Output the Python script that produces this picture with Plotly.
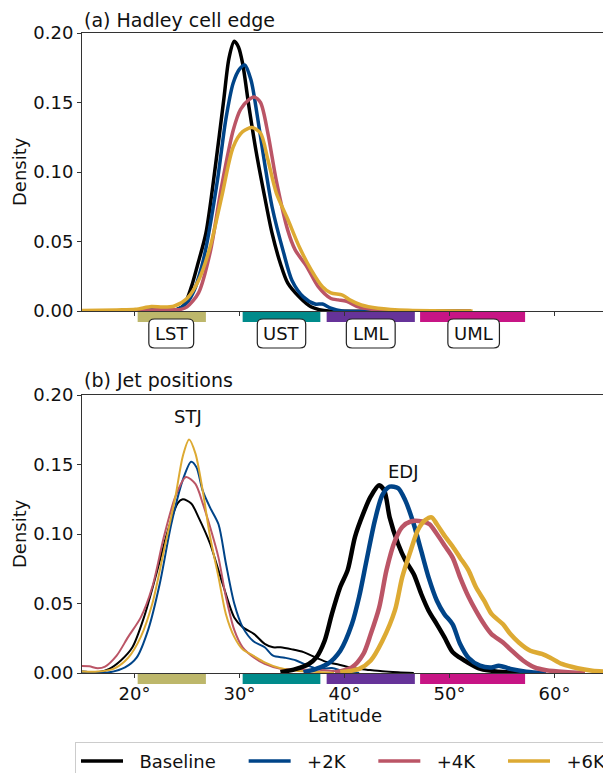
import plotly.graph_objects as go

# ---------------- data ----------------
scenarios = ["Baseline", "+2K", "+4K", "+6K"]
colors = ["#000000", "#004488", "#BB5566", "#DDAA33"]

# (a) Hadley cell edge densities
had_lat_base = [15, 18, 21, 22.5, 24.0, 24.7, 25.4, 26.0, 26.8, 27.7, 28.5, 29.0, 29.5, 29.9, 30.3, 30.9, 31.6, 32.4, 33.1, 33.9, 34.6, 35.7, 36.8, 37.6, 38.5, 45, 52]
had_den_base = [0, 0, 0.0003, 0.001, 0.001, 0.004, 0.017, 0.033, 0.056, 0.104, 0.152, 0.182, 0.194, 0.190, 0.178, 0.147, 0.114, 0.082, 0.056, 0.034, 0.020, 0.010, 0.003, 0.001, 0, 0, 0]

had_lat_2k = [15, 18, 21, 22.5, 24.0, 25.0, 25.7, 26.4, 26.8, 27.9, 28.7, 29.4, 30.0, 30.5, 31.1, 31.6, 32.4, 33.1, 34.2, 35.0, 36.1, 37.2, 37.9, 38.7, 39.8, 45, 52]
had_den_2k = [0, 0, 0.0003, 0.001, 0.001, 0.006, 0.015, 0.032, 0.045, 0.094, 0.138, 0.164, 0.174, 0.177, 0.166, 0.145, 0.106, 0.075, 0.042, 0.022, 0.010, 0.005, 0.005, 0.002, 0, 0, 0]

had_lat_4k = [15, 18, 21, 22.5, 24.3, 25.0, 26.1, 27.2, 28.3, 29.4, 30.1, 30.9, 31.4, 32.0, 32.7, 33.5, 34.6, 35.3, 36.4, 37.5, 38.7, 39.4, 40.2, 41.3, 42.8, 44, 52]
had_den_4k = [0, 0, 0.0005, 0.001, 0.001, 0.003, 0.013, 0.042, 0.090, 0.130, 0.145, 0.152, 0.154, 0.150, 0.128, 0.094, 0.058, 0.044, 0.032, 0.0175, 0.009, 0.008, 0.007, 0.003, 0.001, 0, 0]

had_lat_6k = [15, 18.3, 20.1, 21.6, 22.7, 23.8, 25.0, 26.1, 27.2, 28.3, 29.4, 30.3, 31.2, 32.0, 32.7, 33.5, 34.6, 35.7, 36.8, 37.9, 38.7, 39.8, 40.5, 41.6, 43.2, 46.1, 52.2]
had_den_6k = [0.0003, 0.0008, 0.0012, 0.0032, 0.0028, 0.0036, 0.009, 0.022, 0.046, 0.082, 0.118, 0.129, 0.132, 0.128, 0.109, 0.085, 0.066, 0.046, 0.030, 0.0175, 0.013, 0.0115, 0.008, 0.0043, 0.002, 0.0005, 0]

# (b) Subtropical jet (STJ) densities
stj_lat_base = [15, 16.5, 17.6, 18.7, 19.8, 20.9, 22.0, 23.2, 24.1, 24.6, 25.4, 26.1, 27.2, 28.4, 29.5, 30.3, 31.4, 32.4, 33.2, 33.9, 35.0, 36.1, 37.3, 38.4, 39.5, 40.7, 42.1, 43.6, 45.1, 46.6]
stj_den_base = [0.001, 0.0005, 0.003, 0.009, 0.0185, 0.040, 0.069, 0.103, 0.122, 0.125, 0.122, 0.112, 0.093, 0.064, 0.040, 0.033, 0.028, 0.021, 0.0185, 0.0185, 0.017, 0.015, 0.011, 0.0077, 0.006, 0.0036, 0.0024, 0.0012, 0.0005, 0]

stj_lat_2k = [15, 17.6, 19.1, 20.2, 21.3, 22.4, 23.5, 24.6, 25.4, 25.9, 26.5, 27.2, 28.0, 28.7, 29.5, 30.3, 31.3, 32.4, 33.2, 34.3, 35.4, 36.5, 37.6, 38.8, 39.9, 41.4]
stj_den_2k = [0.0005, 0.0005, 0.004, 0.011, 0.031, 0.064, 0.107, 0.139, 0.152, 0.148, 0.131, 0.119, 0.107, 0.079, 0.050, 0.033, 0.023, 0.0185, 0.0125, 0.011, 0.009, 0.0053, 0.003, 0.0036, 0.0012, 0]

stj_lat_4k = [15, 15.7, 16.5, 17.2, 18.3, 19.4, 20.6, 21.7, 22.8, 23.9, 24.9, 25.8, 26.5, 27.2, 28.0, 28.7, 29.5, 30.3, 31.4, 32.4, 33.9, 36.1, 37.6, 39.1, 40.6]
stj_den_4k = [0.005, 0.0048, 0.0034, 0.0046, 0.0125, 0.026, 0.040, 0.062, 0.098, 0.127, 0.141, 0.136, 0.122, 0.105, 0.083, 0.055, 0.031, 0.0185, 0.011, 0.0065, 0.003, 0.0024, 0.0024, 0.0012, 0]

stj_lat_6k = [15, 16.5, 18.0, 19.4, 20.6, 21.7, 22.8, 23.9, 24.6, 25.2, 25.8, 26.5, 27.2, 28.0, 28.7, 29.5, 30.3, 31.3, 32.4, 33.9, 35.4, 36.8, 39.0]
stj_den_6k = [0.001, 0.001, 0.003, 0.011, 0.026, 0.050, 0.088, 0.127, 0.156, 0.168, 0.158, 0.131, 0.098, 0.069, 0.0425, 0.026, 0.017, 0.0125, 0.0077, 0.0034, 0.0017, 0.001, 0]

# (b) Eddy-driven jet (EDJ) densities
edj_lat_base = [33.9, 35.4, 36.6, 37.3, 38.1, 38.8, 39.6, 40.3, 41.0, 41.8, 42.5, 43.3, 43.8, 44.3, 45.1, 45.8, 46.6, 47.3, 48.0, 48.8, 49.5, 50.3, 51.0, 51.7, 52.8, 53.9, 55.4, 56.9]
edj_den_base = [0.0005, 0.003, 0.0065, 0.011, 0.023, 0.0425, 0.062, 0.074, 0.098, 0.115, 0.127, 0.135, 0.131, 0.112, 0.093, 0.081, 0.071, 0.057, 0.045, 0.035, 0.026, 0.015, 0.011, 0.0077, 0.0034, 0.0017, 0.0005, 0]

edj_lat_2k = [36.1, 37.3, 38.4, 39.6, 40.7, 41.4, 42.1, 42.9, 43.6, 44.3, 45.1, 45.8, 46.6, 47.3, 48.0, 48.8, 49.5, 50.3, 51.0, 51.8, 52.9, 54.0, 54.7, 55.8, 57.3, 59.2]
edj_den_2k = [0.0005, 0.003, 0.0065, 0.016, 0.035, 0.055, 0.081, 0.110, 0.128, 0.134, 0.133, 0.124, 0.107, 0.088, 0.069, 0.052, 0.0425, 0.035, 0.021, 0.011, 0.0053, 0.004, 0.0053, 0.003, 0.001, 0]

edj_lat_4k = [39.1, 40.7, 41.8, 42.5, 43.3, 44.0, 44.8, 45.5, 46.3, 47.4, 48.1, 48.8, 49.6, 50.3, 51.0, 51.8, 52.5, 53.3, 54.0, 55.1, 55.8, 57.0, 58.1, 59.2, 61.0, 62.9]
edj_den_4k = [0.0005, 0.004, 0.0137, 0.028, 0.047, 0.074, 0.095, 0.105, 0.109, 0.109, 0.107, 0.100, 0.091, 0.083, 0.069, 0.055, 0.045, 0.035, 0.028, 0.022, 0.017, 0.009, 0.004, 0.002, 0.0007, 0]

edj_lat_6k = [39.6, 41.4, 42.5, 43.6, 44.8, 45.5, 46.3, 47.0, 47.7, 48.3, 48.8, 49.6, 50.3, 51.0, 51.8, 52.5, 53.3, 54.0, 55.1, 55.8, 56.6, 57.7, 58.8, 59.6, 60.7, 62.2, 63.6, 65.0]
edj_den_6k = [0.0005, 0.003, 0.009, 0.023, 0.045, 0.069, 0.088, 0.103, 0.110, 0.112, 0.107, 0.098, 0.091, 0.083, 0.074, 0.062, 0.052, 0.0425, 0.035, 0.028, 0.022, 0.016, 0.0137, 0.011, 0.0065, 0.0034, 0.0017, 0.001]

# latitude bands
band_names = ["LST", "UST", "LML", "UML"]
band_start = [20.3, 30.3, 38.3, 47.2]
band_end = [26.8, 37.7, 46.7, 57.2]
band_colors = ["darkkhaki", "darkcyan", "rebeccapurple", "mediumvioletred"]
band_label_x = [23.5, 34.0, 42.5, 52.3]
band_label_w = [4.27, 4.61, 4.65, 4.91]

x_ticks = [20, 30, 40, 50, 60]
x_ticklabels = ["20°", "30°", "40°", "50°", "60°"]
y_ticks = [0, 0.05, 0.10, 0.15, 0.20]

hadley = [(had_lat_base, had_den_base), (had_lat_2k, had_den_2k),
          (had_lat_4k, had_den_4k), (had_lat_6k, had_den_6k)]
stj = [(stj_lat_base, stj_den_base), (stj_lat_2k, stj_den_2k),
       (stj_lat_4k, stj_den_4k), (stj_lat_6k, stj_den_6k)]
edj = [(edj_lat_base, edj_den_base), (edj_lat_2k, edj_den_2k),
       (edj_lat_4k, edj_den_4k), (edj_lat_6k, edj_den_6k)]

# ---------------- figure ----------------
FONT = "DejaVu Sans"
FS = 18
OFF = 8                      # page body margin in the browser
W, H = 611 - OFF, 773 - OFF
ML, MR, MT, MB = 82 - OFF, 4, 33 - OFF, 100
PH = H - MT - MB
PW = W - ML - MR

def py(pix):
    """screen pixel row -> paper fraction"""
    return (H - MB - (pix - OFF)) / PH

def px(pix):
    """screen pixel column -> paper fraction"""
    return (pix - OFF - ML) / PW

top_dom = [py(311), 1.0]
bot_dom = [0.0, py(395)]

NB = "\u00a0"
legend_names = [NB * 2 + "Baseline" + NB * 4, NB * 2 + "+2K" + NB * 4,
                NB * 2 + "+4K" + NB * 4, NB * 2 + "+6K"]

fig = go.Figure()
for i, (lat, den) in enumerate(hadley):
    fig.add_trace(go.Scatter(x=lat, y=den, mode="lines", name=legend_names[i],
                             line=dict(color=colors[i], width=3.5, shape="spline", smoothing=0.8),
                             xaxis="x", yaxis="y", showlegend=True))
for i, (lat, den) in enumerate(stj):
    fig.add_trace(go.Scatter(x=lat, y=den, mode="lines", name=scenarios[i],
                             line=dict(color=colors[i], width=2, shape="spline", smoothing=0.8),
                             xaxis="x2", yaxis="y2", showlegend=False))
for i, (lat, den) in enumerate(edj):
    fig.add_trace(go.Scatter(x=lat, y=den, mode="lines", name=scenarios[i],
                             line=dict(color=colors[i], width=4.5, shape="spline", smoothing=0.8),
                             xaxis="x2", yaxis="y2", showlegend=False))

axis_common = dict(range=[15, 65], tickvals=x_ticks, ticks="outside", ticklen=4,
                   tickcolor="#333", showline=True, linecolor="#333", linewidth=1,
                   mirror=True, showgrid=False, zeroline=False,
                   tickfont=dict(family=FONT, size=FS, color="#111"))
yaxis_common = dict(range=[0, 0.2], tickvals=y_ticks, tickformat=".2f", ticks="outside",
                    ticklen=4, tickcolor="#333", showline=True, linecolor="#333", linewidth=1,
                    mirror=True, showgrid=False, zeroline=False,
                    tickfont=dict(family=FONT, size=FS, color="#111"))

shapes = []
for dom, ax in [(top_dom, "x"), (bot_dom, "x2")]:
    y_top = dom[0]
    y_bot = dom[0] - 11 / PH
    for s, e, c in zip(band_start, band_end, band_colors):
        shapes.append(dict(type="rect", xref=ax, yref="paper", x0=s, x1=e,
                           y0=y_bot, y1=y_top, fillcolor=c, line=dict(width=0),
                           layer="below"))

by0, by1 = py(348), py(319)
rx, ry = 0.55, 5 / PH
annotations = []
for name, xc, w in zip(band_names, band_label_x, band_label_w):
    x0, x1 = xc - w / 2, xc + w / 2
    path = (f"M{x0 + rx},{by0} L{x1 - rx},{by0} Q{x1},{by0} {x1},{by0 + ry} "
            f"L{x1},{by1 - ry} Q{x1},{by1} {x1 - rx},{by1} "
            f"L{x0 + rx},{by1} Q{x0},{by1} {x0},{by1 - ry} "
            f"L{x0},{by0 + ry} Q{x0},{by0} {x0 + rx},{by0} Z")
    shapes.append(dict(type="path", xref="x", yref="paper", path=path,
                       fillcolor="white", line=dict(color="#222", width=1.2), layer="above"))
    annotations.append(dict(x=xc, y=(by0 + by1) / 2, xref="x", yref="paper", text=name,
                            showarrow=False, xanchor="center", yanchor="middle",
                            font=dict(family=FONT, size=FS, color="#111")))

annotations += [
    dict(x=0, y=py(19.5), xref="paper", yref="paper", text="(a) Hadley cell edge",
         showarrow=False, xanchor="left", yanchor="middle",
         font=dict(family=FONT, size=19, color="#111")),
    dict(x=0, y=py(380), xref="paper", yref="paper", text="(b) Jet positions",
         showarrow=False, xanchor="left", yanchor="middle",
         font=dict(family=FONT, size=19, color="#111")),
    dict(x=px(19), y=py(172), xref="paper", yref="paper", text="Density", textangle=-90,
         showarrow=False, xanchor="center", yanchor="middle",
         font=dict(family=FONT, size=FS, color="#111")),
    dict(x=px(19), y=py(534), xref="paper", yref="paper", text="Density", textangle=-90,
         showarrow=False, xanchor="center", yanchor="middle",
         font=dict(family=FONT, size=FS, color="#111")),
    dict(x=0.5, y=py(715), xref="paper", yref="paper", text="Latitude",
         showarrow=False, xanchor="center", yanchor="middle",
         font=dict(family=FONT, size=FS, color="#111")),
    dict(x=25.1, y=0.1846, xref="x2", yref="y2", text="STJ", showarrow=False,
         xanchor="center", yanchor="middle", font=dict(family=FONT, size=FS, color="#111")),
    dict(x=45.6, y=0.145, xref="x2", yref="y2", text="EDJ", showarrow=False,
         xanchor="center", yanchor="middle", font=dict(family=FONT, size=FS, color="#111")),
]

fig.update_layout(
    width=W, height=H,
    margin=dict(l=ML, r=MR, t=MT, b=MB, autoexpand=False),
    paper_bgcolor="white", plot_bgcolor="white",
    font=dict(family=FONT, size=FS, color="#111"),
    xaxis=dict(axis_common, domain=[0, 1], anchor="y", showticklabels=False),
    yaxis=dict(yaxis_common, domain=top_dom, anchor="x"),
    xaxis2=dict(axis_common, domain=[0, 1], anchor="y2", ticktext=x_ticklabels),
    yaxis2=dict(yaxis_common, domain=bot_dom, anchor="x2"),
    shapes=shapes,
    annotations=annotations,
    showlegend=True,
    legend=dict(orientation="h", x=px(75), y=py(741.7), xanchor="left", yanchor="top",
                bordercolor="#cccccc", borderwidth=1, bgcolor="white",
                font=dict(family=FONT, size=FS, color="#111"), itemwidth=42),
)

fig.write_html("out.html")
